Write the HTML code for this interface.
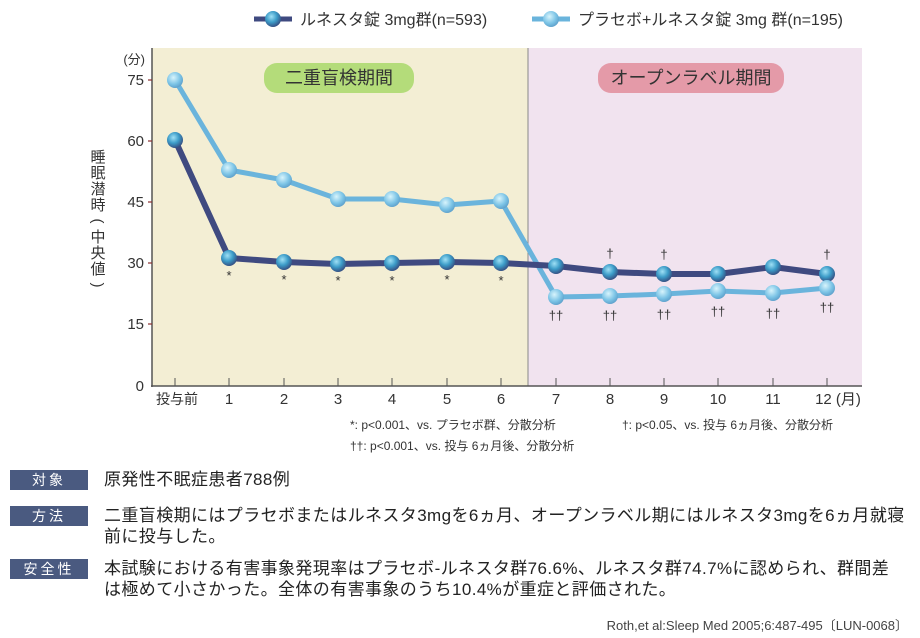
<!DOCTYPE html>
<html><head><meta charset="utf-8"><style>
body{margin:0;background:#fff;width:920px;height:638px;overflow:hidden;font-family:"Liberation Sans","Noto Sans CJK JP",sans-serif;color:#333}
svg{position:absolute;left:0;top:0}
.lab{position:absolute;left:10px;width:78px;height:20px;background:#4a5a80;color:#fff;font-size:14px;text-align:center;line-height:20px;letter-spacing:3px}
.txt{position:absolute;left:104px;font-size:17px;line-height:21px;letter-spacing:0.4px;color:#222;white-space:nowrap}
</style></head><body>
<svg width="920" height="638" xmlns="http://www.w3.org/2000/svg" font-family="Liberation Sans, Noto Sans CJK JP, sans-serif">
<defs>
<radialGradient id="gd" cx="0.4" cy="0.35" r="0.7"><stop offset="0" stop-color="#9fe0f5"/><stop offset="0.5" stop-color="#3c9cc8"/><stop offset="1" stop-color="#34467a"/></radialGradient>
<radialGradient id="gl" cx="0.4" cy="0.35" r="0.7"><stop offset="0" stop-color="#d8f4fc"/><stop offset="0.6" stop-color="#7cc4e6"/><stop offset="1" stop-color="#5a9cc8"/></radialGradient>
</defs>
<line x1="254" y1="19" x2="292" y2="19" stroke="#3f4a80" stroke-width="5"/><circle cx="273" cy="19" r="8" fill="url(#gd)"/>
<text x="300" y="25" font-size="16" fill="#333">ルネスタ錠 3mg群(n=593)</text>
<line x1="532" y1="19" x2="570" y2="19" stroke="#6ab4dc" stroke-width="5"/><circle cx="551" cy="19" r="8" fill="url(#gl)"/>
<text x="578" y="25" font-size="16" fill="#333">プラセボ+ルネスタ錠 3mg 群(n=195)</text>
<rect x="152" y="48" width="376" height="338" fill="#f3eed4"/>
<rect x="528" y="48" width="334" height="338" fill="#f1e3ef"/>
<line x1="528" y1="48" x2="528" y2="386" stroke="#888" stroke-width="1"/>
<line x1="152" y1="48" x2="152" y2="387" stroke="#555" stroke-width="1.5"/>
<line x1="151" y1="386" x2="862" y2="386" stroke="#555" stroke-width="1.5"/>
<g font-size="15" fill="#333" text-anchor="end">
<text x="145" y="64" font-size="13">(分)</text>
<text x="144" y="85">75</text><text x="144" y="146">60</text><text x="144" y="207">45</text><text x="144" y="268">30</text><text x="144" y="329">15</text><text x="144" y="391">0</text>
</g>
<g stroke="#8a3030" stroke-width="1.2"><line x1="148" y1="80" x2="152" y2="80"/><line x1="148" y1="141" x2="152" y2="141"/><line x1="148" y1="202" x2="152" y2="202"/><line x1="148" y1="263" x2="152" y2="263"/><line x1="148" y1="324" x2="152" y2="324"/></g>
<g stroke="#555" stroke-width="1"><line x1="175" y1="378" x2="175" y2="386"/><line x1="229" y1="378" x2="229" y2="386"/><line x1="284" y1="378" x2="284" y2="386"/><line x1="338" y1="378" x2="338" y2="386"/><line x1="392" y1="378" x2="392" y2="386"/><line x1="447" y1="378" x2="447" y2="386"/><line x1="501" y1="378" x2="501" y2="386"/><line x1="556" y1="378" x2="556" y2="386"/><line x1="610" y1="378" x2="610" y2="386"/><line x1="664" y1="378" x2="664" y2="386"/><line x1="718" y1="378" x2="718" y2="386"/><line x1="773" y1="378" x2="773" y2="386"/><line x1="827" y1="378" x2="827" y2="386"/></g>
<g font-size="15" fill="#333" text-anchor="middle">
<text x="177" y="404" font-size="14">投与前</text><text x="229" y="404">1</text><text x="284" y="404">2</text><text x="338" y="404">3</text><text x="392" y="404">4</text><text x="447" y="404">5</text><text x="501" y="404">6</text><text x="556" y="404">7</text><text x="610" y="404">8</text><text x="664" y="404">9</text><text x="718" y="404">10</text><text x="773" y="404">11</text><text x="838" y="404">12 (月)</text>
</g>
<g font-size="15" fill="#333" text-anchor="middle"><text x="98" y="162">睡</text><text x="98" y="178">眠</text><text x="98" y="194">潜</text><text x="98" y="210">時</text><text x="98" y="226" transform="rotate(90 98 221)">(</text><text x="98" y="242">中</text><text x="98" y="258">央</text><text x="98" y="274">値</text><text x="98" y="290" transform="rotate(90 98 285)">)</text></g>
<rect x="264" y="63" width="150" height="30" rx="13" fill="#b4dc7a"/>
<text x="339" y="84" font-size="18" text-anchor="middle" fill="#333">二重盲検期間</text>
<rect x="598" y="63" width="186" height="30" rx="13" fill="#e49aa8"/>
<text x="691" y="84" font-size="18" text-anchor="middle" fill="#333">オープンラベル期間</text>
<polyline fill="none" stroke="#6ab4dc" stroke-width="5" stroke-linejoin="round" points="175,80 229,170 284,180 338,199 392,199 447,205 501,201 556,297 610,296 664,294 718,291 773,293 827,288"/>
<polyline fill="none" stroke="#3f4a80" stroke-width="6" stroke-linejoin="round" points="175,140 229,258 284,262 338,264 392,263 447,262 501,263 556,266 610,272 664,274 718,274 773,267 827,274"/>
<g fill="url(#gl)">
<circle cx="175" cy="80" r="8"/><circle cx="229" cy="170" r="8"/><circle cx="284" cy="180" r="8"/><circle cx="338" cy="199" r="8"/><circle cx="392" cy="199" r="8"/><circle cx="447" cy="205" r="8"/><circle cx="501" cy="201" r="8"/>
</g>
<g fill="url(#gd)">
<circle cx="175" cy="140" r="8"/><circle cx="229" cy="258" r="8"/><circle cx="284" cy="262" r="8"/><circle cx="338" cy="264" r="8"/><circle cx="392" cy="263" r="8"/><circle cx="447" cy="262" r="8"/><circle cx="501" cy="263" r="8"/><circle cx="556" cy="266" r="8"/><circle cx="610" cy="272" r="8"/><circle cx="664" cy="274" r="8"/><circle cx="718" cy="274" r="8"/><circle cx="773" cy="267" r="8"/><circle cx="827" cy="274" r="8"/>
</g>
<g fill="url(#gl)">
<circle cx="556" cy="297" r="8"/><circle cx="610" cy="296" r="8"/><circle cx="664" cy="294" r="8"/><circle cx="718" cy="291" r="8"/><circle cx="773" cy="293" r="8"/><circle cx="827" cy="288" r="8"/>
</g>
<g font-size="13" fill="#333" text-anchor="middle">
<text x="229" y="280">*</text><text x="284" y="284">*</text><text x="338" y="285">*</text><text x="392" y="285">*</text><text x="447" y="284">*</text><text x="501" y="285">*</text>
<text x="610" y="258">†</text><text x="664" y="259">†</text><text x="827" y="259">†</text>
<text x="556" y="320">††</text><text x="610" y="320">††</text><text x="664" y="319">††</text><text x="718" y="316">††</text><text x="773" y="318">††</text><text x="827" y="312">††</text>
</g>
<g font-size="12" fill="#333">
<text x="350" y="429">*: p&lt;0.001、vs. プラセボ群、分散分析</text>
<text x="622" y="429">†: p&lt;0.05、vs. 投与 6ヵ月後、分散分析</text>
<text x="350" y="450">††: p&lt;0.001、vs. 投与 6ヵ月後、分散分析</text>
</g>
<text x="908" y="630" font-size="13" fill="#444" text-anchor="end">Roth,et al:Sleep Med 2005;6:487-495〔LUN-0068〕</text>
</svg>
<div class="lab" style="top:470px">対象</div><div class="txt" style="top:469px">原発性不眠症患者788例</div>
<div class="lab" style="top:506px">方法</div><div class="txt" style="top:505px">二重盲検期にはプラセボまたはルネスタ3mgを6ヵ月、オープンラベル期にはルネスタ3mgを6ヵ月就寝<br>前に投与した。</div>
<div class="lab" style="top:559px">安全性</div><div class="txt" style="top:558px">本試験における有害事象発現率はプラセボ-ルネスタ群76.6%、ルネスタ群74.7%に認められ、群間差<br>は極めて小さかった。全体の有害事象のうち10.4%が重症と評価された。</div>
</body></html>
